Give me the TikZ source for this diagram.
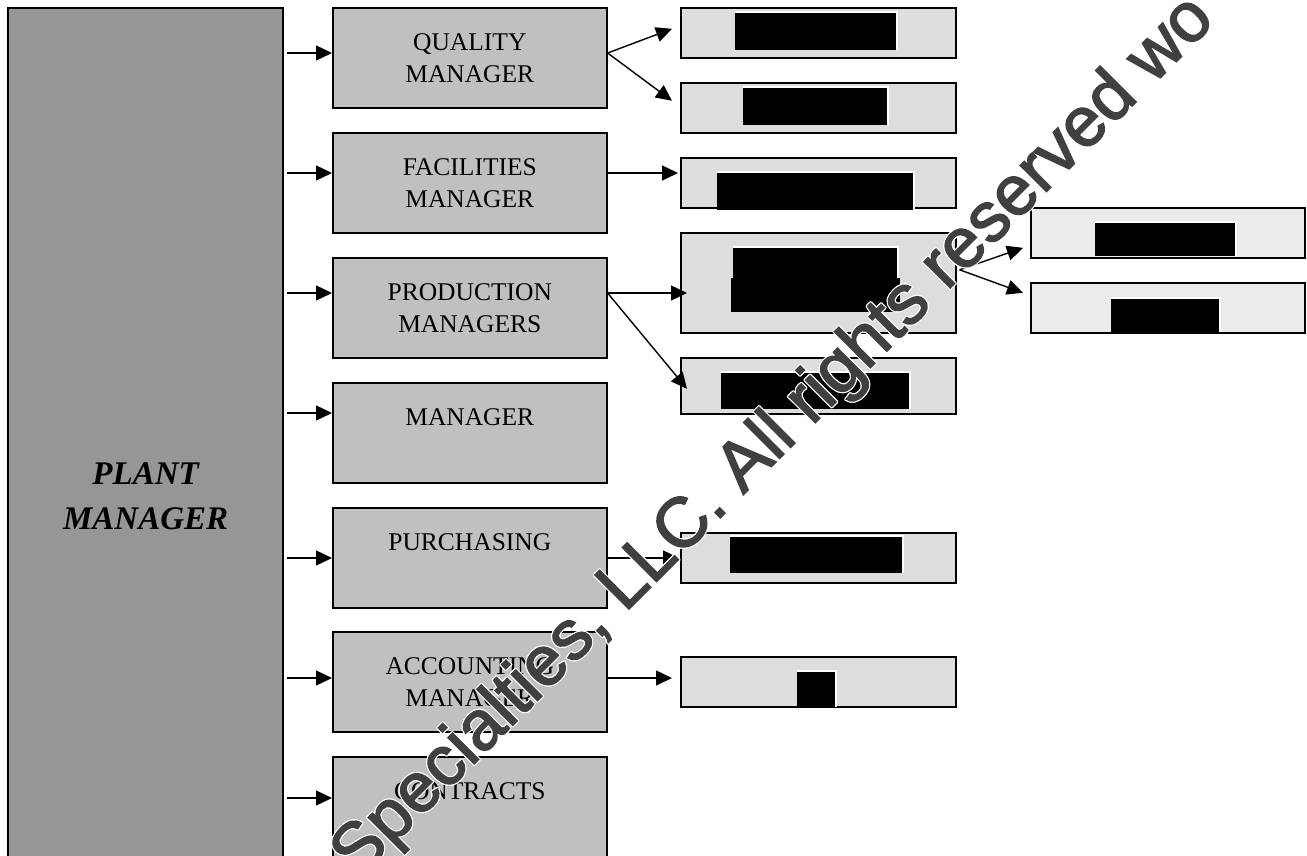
\documentclass[tikz,border=0pt]{standalone}
\usepackage{fontspec}
\setmainfont{Liberation Serif}
\newfontfamily\wmfont[FakeBold=2.2]{Liberation Sans}
\usetikzlibrary{arrows.meta,calc}
\definecolor{plantgray}{HTML}{969696}
\definecolor{midgray}{HTML}{C0C0C0}
\definecolor{subgray}{HTML}{DDDDDD}
\definecolor{subsubgray}{HTML}{EBEBEB}
\definecolor{wmgray}{HTML}{404040}
\newcommand{\redact}[4]{%
  \fill[white] (#1,#2-2) rectangle (#3+2,#4);
  \fill[black] (#1,#2) rectangle (#3,#4);}
\newcommand{\wmstring}{Specialties, LLC. All rights reserved wo}
\begin{document}
\begin{tikzpicture}[x=1pt,y=-1pt,
  plantbox/.style={draw, line width=2.2pt, fill=plantgray, anchor=north west,
    minimum width=275pt, minimum height=870pt, inner sep=0pt},
  midbox/.style={draw, line width=1.6pt, fill=midgray, anchor=north west,
    minimum width=274pt, minimum height=100pt, inner sep=0pt},
  subbox/.style={draw, line width=1.6pt, fill=subgray, anchor=north west,
    minimum width=275pt, minimum height=50pt, inner sep=0pt},
  subsubbox/.style={draw, line width=1.6pt, fill=subsubgray, anchor=north west,
    minimum width=274pt, minimum height=50pt, inner sep=0pt},
  boxtext/.style={anchor=north, inner sep=0pt, align=center,
    font=\fontsize{25.5}{32}\selectfont, yshift=-26pt},
  planttext/.style={anchor=north, inner sep=0pt, align=center,
    font=\fontsize{33}{45}\selectfont\bfseries\itshape, yshift=-456pt},
  conn/.style={line width=1.4pt, -{Triangle[length=16pt,width=15pt]}},
  wm/.style={anchor=base west, rotate=45, inner sep=0pt,
    font=\wmfont\fontsize{70}{84}\selectfont},
]
\useasboundingbox (0,0) rectangle (1307,855);
\clip (0,0) rectangle (1307,855);

% plant manager
\node[plantbox] (plant) at (7,7) {};
\node[planttext] (plantt) at (plant.north) {PLANT\\MANAGER};

% middle column
\node[midbox] (q)   at (332,7)   {};
\node[midbox] (f)   at (332,132) {};
\node[midbox] (p)   at (332,257) {};
\node[midbox] (m)   at (332,382) {};
\node[midbox] (u)   at (332,507) {};
\node[midbox] (acc) at (332,631) {};
\node[midbox, minimum height=130pt] (c) at (332,756) {};
\node[boxtext] (qt)   at (q.north)   {QUALITY\\MANAGER};
\node[boxtext] (ft)   at (f.north)   {FACILITIES\\MANAGER};
\node[boxtext] (pt)   at (p.north)   {PRODUCTION\\MANAGERS};
\node[boxtext] (mt)   at (m.north)   {MANAGER};
\node[boxtext] (ut)   at (u.north)   {PURCHASING};
\node[boxtext] (acct) at (acc.north) {ACCOUNTING\\MANAGER};
\node[boxtext] (ct)   at (c.north)   {CONTRACTS};

% right column
\node[subbox] (r1) at (680,7)   {};
\node[subbox] (r2) at (680,82)  {};
\node[subbox] (r3) at (680,157) {};
\node[subbox, minimum height=100pt] (r4) at (680,232) {};
\node[subbox, minimum height=56pt]  (r5) at (680,357) {};
\node[subbox] (r6) at (680,532) {};
\node[subbox] (r7) at (680,656) {};
\node[subsubbox] (rr1) at (1030,207) {};
\node[subsubbox] (rr2) at (1030,282) {};

% redactions
\redact{735}{13}{896}{50}
\redact{743}{88}{887}{125}
\redact{717}{173}{913}{210}
\redact{733}{248}{897}{278}
\fill[black] (731,278) rectangle (900,312);
\redact{721}{373}{909}{409}
\redact{730}{537}{902}{573}
\redact{797}{672}{835}{707}
\redact{1095}{223}{1235}{256}
\redact{1111}{299}{1219}{332}

% arrows from plant manager
\coordinate (a1) at (287,53);
\coordinate (a2) at (287,173);
\coordinate (a3) at (287,293);
\coordinate (a4) at (287,413);
\coordinate (a5) at (287,558);
\coordinate (a6) at (287,678);
\coordinate (a7) at (287,798);
\draw[conn] (a1) -- (a1 -| q.west);
\draw[conn] (a2) -- (a2 -| f.west);
\draw[conn] (a3) -- (a3 -| p.west);
\draw[conn] (a4) -- (a4 -| m.west);
\draw[conn] (a5) -- (a5 -| u.west);
\draw[conn] (a6) -- (a6 -| acc.west);
\draw[conn] (a7) -- (a7 -| c.west);

% arrows to right column
\coordinate (qo) at (q.east |- a1);
\draw[conn] (qo) -- ($(r1.west)+(-8,-4)$);
\draw[conn] (qo) -- ($(r2.west)+(-8,-7)$);
\coordinate (fo) at (f.east |- a2);
\draw[conn] (fo) -- ($(fo -| r3.west)+(-2,0)$);
\coordinate (po) at (p.east |- a3);
\draw[conn] (po) -- ($(po -| r4.west)+(7,0)$);
\draw[conn] (po) -- ($(r5.west)+(7,3)$);
\coordinate (r4o) at ($(r4.east)+(3,-13)$);
\draw[conn] (r4o) -- ($(rr1.west)+(-7,15)$);
\draw[conn] (r4o) -- ($(rr2.west)+(-7,-15)$);
\coordinate (uo) at (u.east |- a5);
\draw[conn] (uo) -- ($(uo -| r6.west)+(-1,0)$);
\coordinate (ao) at (acc.east |- a6);
\draw[conn] (ao) -- ($(ao -| r7.west)+(-8,0)$);

% watermark
\coordinate (wmstart) at (358,880);
\foreach \ang in {0,45,...,315}
  \node[wm, text=white, shift={(\ang:1.2pt)}] at (wmstart) {\wmstring};
\node[wm, text=wmgray] (wmark) at (wmstart) {\wmstring};
\end{tikzpicture}
\end{document}
